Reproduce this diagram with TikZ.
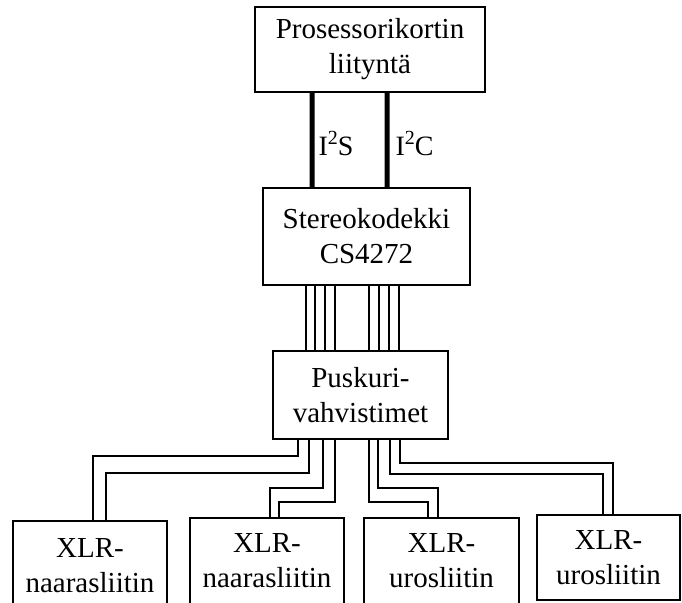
\documentclass[tikz,border=0pt]{standalone}
\usepackage{fontspec}
\setmainfont{Liberation Serif}
\newcommand{\supnum}[1]{\raisebox{11bp}{\fontsize{20bp}{20bp}\selectfont #1}}
\begin{document}
\begin{tikzpicture}[x=1bp,y=-1bp,
  blk/.style={draw,line width=2bp,rectangle,align=center,inner sep=0pt,
    font=\fontsize{29bp}{35bp}\selectfont},
  bus/.style={line width=5bp},
  wire/.style={line width=2bp},
  lbl/.style={right,inner sep=4bp,yshift=-3.5bp,font=\fontsize{28bp}{34bp}\selectfont}]
\useasboundingbox (0,0) rectangle (682,603);
\clip (0,0) rectangle (682,603);

% blocks
\node[blk,minimum width=230bp,minimum height=85bp] (proc) at (370,49.5)
  {Prosessorikortin\\liityntä};
\node[blk,minimum width=207bp,minimum height=97bp] (codec) at (366.5,236.5)
  {Stereokodekki\\CS4272};
\node[blk,minimum width=175bp,minimum height=88bp] (buf) at (360.5,395)
  {Puskuri-\\vahvistimet};
\node[blk,minimum width=154bp,minimum height=90bp] (xa) at (90,566)
  {XLR-\\naarasliitin};
\node[blk,minimum width=154bp,minimum height=86bp] (xb) at (267,561)
  {XLR-\\naarasliitin};
\node[blk,minimum width=155bp,minimum height=86bp] (xc) at (441.5,561)
  {XLR-\\urosliitin};
\node[blk,minimum width=143bp,minimum height=85bp] (xd) at (608.5,557.5)
  {XLR-\\urosliitin};

% serial buses to the processor card
\draw[bus] ([xshift=-58bp]proc.south) -- node[lbl]{I\supnum{2}S} ([xshift=-54.5bp]codec.north);
\draw[bus] ([xshift=17bp]proc.south) -- node[lbl,inner sep=6bp]{I\supnum{2}C} ([xshift=20.5bp]codec.north);

% analog lines codec -> buffers
\foreach \d in {-60.5,-51.5,-41.5,-31.5,2.5,12.5,22.5,32.5}
  \draw[wire] ([xshift=\d bp]codec.south) -- ++(0,66);

% buffers -> connectors
\draw[wire] ([xshift=-62.5bp]buf.south) -- ++(0,16) -| ([xshift=3bp]xa.north);
\draw[wire] ([xshift=-51.5bp]buf.south) -- ++(0,33) -| ([xshift=16bp]xa.north);
\draw[wire] ([xshift=-37.5bp]buf.south) -- ++(0,48) -| ([xshift=3bp]xb.north);
\draw[wire] ([xshift=-25.5bp]buf.south) -- ++(0,62) -| ([xshift=12bp]xb.north);
\draw[wire] ([xshift=8.5bp]buf.south) -- ++(0,62) -| ([xshift=-13.5bp]xc.north);
\draw[wire] ([xshift=17.5bp]buf.south) -- ++(0,48) -| ([xshift=-3.5bp]xc.north);
\draw[wire] ([xshift=29.5bp]buf.south) -- ++(0,34) -| ([xshift=-5.5bp]xd.north);
\draw[wire] ([xshift=39.5bp]buf.south) -- ++(0,23) -| ([xshift=4.5bp]xd.north);
\end{tikzpicture}
\end{document}
